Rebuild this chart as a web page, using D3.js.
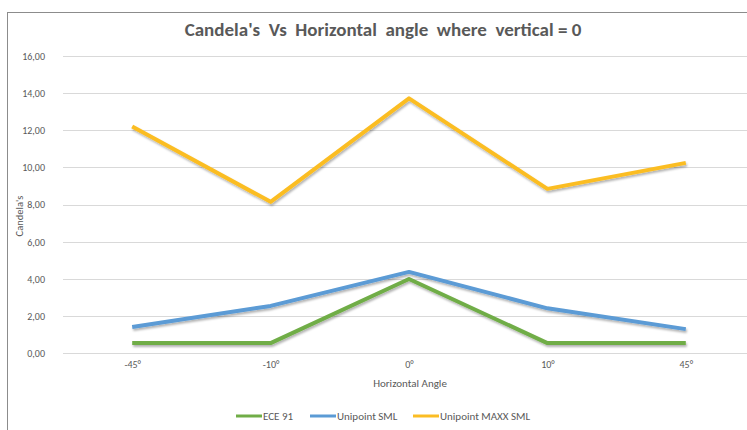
<!DOCTYPE html>
<html>
<meta charset="UTF-8">
<style>
/*	Style Definitions  */
body {
	margin: 0;
	background: white;
}

text {
	font-family: Calibri, Carlito, "Liberation Sans Narrow", "Open Sans", sans-serif;
	fill: #595959;
	white-space: pre;
}

.grid line {
	stroke: #d9d9d9;
	stroke-width: 1px;
}

.series {
	fill: none;
	stroke-width: 4px;
	stroke-linejoin: round;
}

</style>
<svg width="747" height="430"></svg>
<script src="https://d3js.org/d3.v7.min.js"></script>
<script>
//	chart data
var angles = ["-45°", "-10°", "0°", "10°", "45°"];
var ece91 = [0.55, 0.55, 4.0, 0.55, 0.55];
var unipointSml = [1.42, 2.55, 4.38, 2.42, 1.3];
var unipointMaxx = [12.2, 8.15, 13.72, 8.85, 10.25];
var yTicks = [0, 2, 4, 6, 8, 10, 12, 14, 16];

var seriesNames = ["ECE 91", "Unipoint SML", "Unipoint MAXX SML"];
var seriesColors = ["#70ad47", "#5b9bd5", "#fbbd24"];

//	svg and sizing
var svg = d3.select("svg");

//	chart frame
svg.append("rect")
	.attr("x", 7.5)
	.attr("y", 12.5)
	.attr("width", 760)
	.attr("height", 430)
	.attr("fill", "white")
	.attr("stroke", "#8c8c8c");

//	drop shadow like excel's line effect
var shadow = svg.append("defs").append("filter")
	.attr("id", "shadow")
	.attr("x", "-10%").attr("y", "-10%")
	.attr("width", "120%").attr("height", "140%");
shadow.append("feDropShadow")
	.attr("dx", 1)
	.attr("dy", 2)
	.attr("stdDeviation", 1.2)
	.attr("flood-color", "#000")
	.attr("flood-opacity", 0.3);

//	scales
var x = d3.scalePoint()
	.domain(angles)
	.range([63, 755])
	.padding(0.5);

var y = d3.scaleLinear()
	.domain([0, 16])
	.range([353.3, 56]);

var fmt = function(d) { return d3.format(".2f")(d).replace(".", ","); };

//	gridlines
svg.append("g")
	.attr("class", "grid")
	.selectAll("line")
	.data(yTicks)
	.enter().append("line")
		.attr("x1", 63)
		.attr("x2", 760)
		.attr("y1", function(d) { return Math.round(y(d)) + 0.5; })
		.attr("y2", function(d) { return Math.round(y(d)) + 0.5; });

//	y axis labels
var yAxis = svg.append("g")
	.attr("transform", "translate(45,0)")
	.call(d3.axisLeft(y).tickValues(yTicks).tickFormat(fmt).tickSize(0).tickPadding(0));
yAxis.select(".domain").remove();
yAxis.selectAll("text")
	.style("font-size", "10px");

//	x axis labels
var xAxis = svg.append("g")
	.attr("transform", "translate(0,361)")
	.call(d3.axisBottom(x).tickSize(0).tickPadding(0));
xAxis.select(".domain").remove();
xAxis.selectAll("text")
	.style("font-size", "10px");

//	axis titles
svg.append("text")
	.attr("transform", "translate(23,216) rotate(-90)")
	.attr("text-anchor", "middle")
	.style("font-size", "10.5px")
	.text("Candela's");

svg.append("text")
	.attr("x", 410)
	.attr("y", 387)
	.attr("text-anchor", "middle")
	.style("font-size", "11px")
	.text("Horizontal Angle");

//	title
svg.append("text")
	.attr("x", 383)
	.attr("y", 36)
	.attr("text-anchor", "middle")
	.style("font-size", "19px")
	.style("font-weight", "bold")
	.text("Candela's  Vs  Horizontal  angle  where  vertical = 0");

//	series lines
var line = d3.line()
	.x(function(d, i) { return x(angles[i]); })
	.y(function(d) { return y(d); });

var allSeries = [ece91, unipointSml, unipointMaxx];

svg.append("g")
	.selectAll("path")
	.data(allSeries)
	.enter().append("path")
		.attr("class", "series")
		.attr("filter", "url(#shadow)")
		.attr("stroke", function(d, i) { return seriesColors[i]; })
		.attr("d", line);

//	legend
var legendX = [236, 310, 413];
var legend = svg.append("g")
	.selectAll("g")
	.data(seriesNames)
	.enter().append("g")
		.attr("transform", function(d, i) { return "translate(" + legendX[i] + ",416)"; });

legend.append("line")
	.attr("x1", 0)
	.attr("x2", 26)
	.attr("stroke", function(d, i) { return seriesColors[i]; })
	.attr("stroke-width", 3);

legend.append("text")
	.attr("x", 27)
	.attr("y", 4)
	.style("font-size", "11px")
	.text(function(d) { return d; });

</script>
